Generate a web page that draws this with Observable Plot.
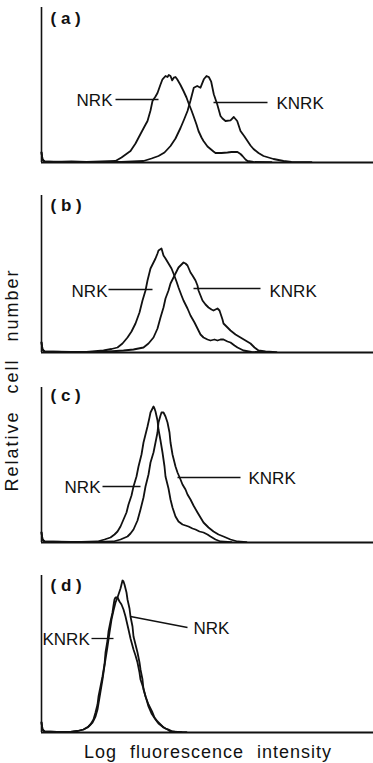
<!DOCTYPE html>
<html><head><meta charset="utf-8">
<script src="https://cdn.jsdelivr.net/npm/d3@7"></script>
<script src="https://cdn.jsdelivr.net/npm/@observablehq/plot@0.6"></script>
<style>
body{margin:0;background:#fff;}
#wrap{position:relative;width:373px;height:763px;font-family:"Liberation Sans",Arial,sans-serif;color:#111;overflow:hidden}
#wrap svg{display:block}
.ylab{position:absolute;left:12px;top:380px;transform:translate(-50%,-50%) rotate(-90deg);font-size:18px;letter-spacing:2px;word-spacing:10px;white-space:nowrap;line-height:18px}
.xlab{position:absolute;left:208px;top:752px;transform:translate(-50%,-50%);font-size:18px;letter-spacing:1px;word-spacing:7px;white-space:nowrap;line-height:18px}
</style>
</head><body>
<div id="wrap"></div>
<script>
// Histogram values: [log-fluorescence channel, relative cell number]
const nrkA = [[0,10],[1,3],[3,1],[12,0.5],[30,1],[45,0.5],[60,1],[74,1.5],[80,5],[89,11.5],[94,19],[99,28.5],[103,36],[106,41.5],[109,52],[111,61.5],[114,66],[116,69.5],[119,78],[121,83.2],[124,86.5],[126,85.5],[127.3,87.5],[129,86.5],[130.7,82.2],[132.3,84.8],[134,85.5],[135.7,83.2],[139,77.5],[142,71.5],[145,65],[147,59.5],[150,52],[152,46.5],[155,38],[157,31.5],[160,25],[162,21.5],[166,16],[169,13.5],[172,11],[174,9.5],[180,9.5],[186,10],[190,10.5],[196,10.5],[199,8.5],[201,6.5],[204,3],[206,1.5],[212,0.5],[230,0.3]];
const knrkA = [[0,10],[1,3],[3,1],[20,0.5],[50,0.5],[80,0.5],[102,1.5],[110,4],[117,6.5],[123,10],[129,16.5],[134,24],[139,34.5],[143,44],[146,51.5],[149,62],[152.3,74.8],[155.7,76.5],[159,74.8],[162.3,83.2],[165,86.5],[167.3,85.5],[169.7,80.8],[172.3,68.2],[175.7,58.2],[179,46.5],[181,44],[184,41.5],[189,42.2],[192.3,45.5],[195.7,41.5],[199,31.5],[203,26],[206,21.5],[209,17],[212,13.5],[217,9.5],[222,6.5],[227,5],[232,3.5],[237,2.5],[242,1.5],[250,0.5],[270,0.3]];
const nrkB = [[0,10],[1,3],[3,1],[20,0.5],[45,0.5],[62,2],[70,3.5],[76,5],[81,9],[86,15],[90,21],[94,29],[98,40],[101,52],[104,62],[106,72],[108,80],[109,84],[111,88],[114,94],[116,99],[117,102],[120,104],[122,97],[124,94],[127,89],[130,84],[132,79],[135,71],[137,65],[140,57],[142,52],[146,44],[149,37],[153,30],[156,24],[159,18],[162,15],[166,13],[169,12],[173,13],[176,12],[179,13],[182,13],[186,11],[189,10],[193,7],[196,5],[202,2],[210,0.5],[230,0.3]];
const knrkB = [[0,10],[1,3],[3,1],[30,0.5],[60,0.5],[82,2],[92,3],[102,5],[107,9],[112,15],[116,24],[119,35],[122,45],[124,54],[127,62],[129,69],[132,75],[134,79],[137,85],[140,88],[142,90],[144,89],[146,87],[149,80],[151,77],[154,72],[156,67],[157,62],[159,57],[161,52],[164,48],[167,45],[170,43],[172,42],[174,43],[176,44],[178,42],[179,39],[181,33],[182,29],[186,25],[189,22],[194,18],[199,15],[204,12],[209,9],[213,5],[217,2],[224,1],[235,0.3]];
const nrkC = [[0,10],[1,3],[3,1],[20,0.5],[40,0.5],[56,1],[63,3],[69,5],[73,8],[76,11],[79,16],[82,23],[85,30],[87,38],[90,47],[92,56],[95,66],[97,76],[100,88],[102,100],[104,108],[106,116],[108,125],[109,130],[111,134],[112,136],[113,134],[114,131],[116,122],[117,113],[119,102],[121,90],[123,76],[124,66],[127,54],[129,43],[131,35],[134,26],[137,21],[141,18],[144,17],[147,16],[151,14],[154,13],[158,11],[162,10],[166,8],[169,6],[174,3],[179,1],[190,0.3]];
const knrkC = [[0,10],[1,3],[3,1],[30,0.5],[55,0.5],[72,1],[79,3],[86,6],[89,9],[92,13],[96,22],[99,33],[102,45],[104,56],[107,68],[109,80],[112,90],[114,100],[116,110],[117,120],[119,127],[120,130],[122,130],[124,126],[126,120],[128,110],[129,100],[131,88],[134,76],[136,70],[139,63],[141,58],[144,53],[146,48],[149,43],[152,37],[156,30],[159,25],[162,20],[167,15],[172,11],[177,8],[182,6],[189,3],[196,1],[205,0.3]];
const nrkD = [[0,10],[1,3],[3,1],[15,0.5],[29,0.5],[36,1.5],[42,3],[47,6],[51,10],[54,16],[56,23],[58,35],[61,53],[63,67],[66,86],[68,100],[70,113],[72,122],[74,130],[76,135],[77,138],[79,144],[80,148],[81,152],[82,151],[83,148],[85,140],[86,133],[88,124],[89,116],[91,106],[92,96],[94,88],[96,80],[98,70],[99,63],[101,53],[102,43],[105,33],[107,26],[110,19],[114,13],[117,9],[121,6],[124,4],[127,3],[131,1],[134,0.5],[145,0.3]];
const knrkD = [[0,10],[1,3],[3,1],[15,0.5],[29,0.5],[36,1.5],[42,3],[46,5],[49,8],[52,13],[54,20],[56,28],[57,36],[59,46],[61,56],[63,68],[64,80],[66,92],[67,101],[69,111],[71,120],[72,127],[73,133],[74,135],[76,135],[77,133],[78,131],[80,128],[82,123],[84,116],[87,103],[89,94],[92,83],[94,77],[96,70],[98,60],[99,53],[102,44],[104,36],[107,28],[111,20],[113,15],[116,11],[119,8],[122,5],[126,3],[129,1],[140,0.3]];

const panelIds = ["a","b","c","d"];
const panelTitles = ["( a )","( b )","( c )","( d )"];
const titleY = [144,147,147,147];
const axisTop = [155,157,155,157];
const seriesNRK = [nrkA, nrkB, nrkC, nrkD];
const seriesKNRK = [knrkA, knrkB, knrkC, knrkD];
const curveLabels = [
  {panel:"a", text:"NRK", x:71, y:62, anchor:"end"},
  {panel:"a", text:"KNRK", x:235, y:59, anchor:"start"},
  {panel:"b", text:"NRK", x:66, y:61, anchor:"end"},
  {panel:"b", text:"KNRK", x:228, y:61, anchor:"start"},
  {panel:"c", text:"NRK", x:59, y:55, anchor:"end"},
  {panel:"c", text:"KNRK", x:207, y:64, anchor:"start"},
  {panel:"d", text:"KNRK", x:1, y:93, anchor:"start"},
  {panel:"d", text:"NRK", x:152, y:104, anchor:"start"}
];
const leaders = [
  {panel:"a", x1:74, y1:63, x2:117, y2:63},
  {panel:"a", x1:172, y1:60, x2:226, y2:60},
  {panel:"b", x1:67, y1:63, x2:111, y2:63},
  {panel:"b", x1:152, y1:64, x2:219, y2:64},
  {panel:"c", x1:61, y1:56, x2:99, y2:56},
  {panel:"c", x1:136, y1:65, x2:199, y2:65},
  {panel:"d", x1:50, y1:94, x2:72, y2:94},
  {panel:"d", x1:89, y1:116, x2:146, y2:105}
];
const xLabel = "Log fluorescence intensity";
const yLabel = "Relative cell number";

const ink = "#111";
const wrap = document.getElementById("wrap");

panelIds.forEach((id, i) => {
  const labs = curveLabels.filter(d => d.panel === id);
  const links = leaders.filter(d => d.panel === id);
  const chart = Plot.plot({
    width: 373, height: 190,
    marginLeft: 41, marginRight: 0, marginTop: 5, marginBottom: 28,
    x: {domain: [0, 332], axis: null},
    y: {domain: [0, 157], axis: null},
    style: {fontFamily: "Liberation Sans, Arial, sans-serif", background: "white", color: ink},
    marks: [
      Plot.ruleY([0], {stroke: ink, strokeWidth: 2}),
      Plot.ruleX([0], {y1: 0, y2: axisTop[i], stroke: ink, strokeWidth: 1.6}),
      Plot.line(seriesNRK[i], {x: d => d[0], y: d => d[1], stroke: ink, strokeWidth: 1.8, strokeLinejoin: "round"}),
      Plot.line(seriesKNRK[i], {x: d => d[0], y: d => d[1], stroke: ink, strokeWidth: 1.8, strokeLinejoin: "round"}),
      Plot.link(links, {x1: "x1", y1: "y1", x2: "x2", y2: "y2", stroke: ink, strokeWidth: 1.3}),
      Plot.text(labs.filter(d => d.anchor === "end"), {x: "x", y: "y", text: "text", textAnchor: "end", fontSize: 17, fill: ink}),
      Plot.text(labs.filter(d => d.anchor === "start"), {x: "x", y: "y", text: "text", textAnchor: "start", fontSize: 17, fill: ink}),
      Plot.text([panelTitles[i]], {x: 9, y: titleY[i], text: d => d, textAnchor: "start", fontSize: 17, fontWeight: "bold", fill: ink})
    ]
  });
  wrap.appendChild(chart);
});

const yl = document.createElement("div");
yl.className = "ylab"; yl.textContent = yLabel; wrap.appendChild(yl);
const xl = document.createElement("div");
xl.className = "xlab"; xl.textContent = xLabel; wrap.appendChild(xl);
</script>
</body></html>
